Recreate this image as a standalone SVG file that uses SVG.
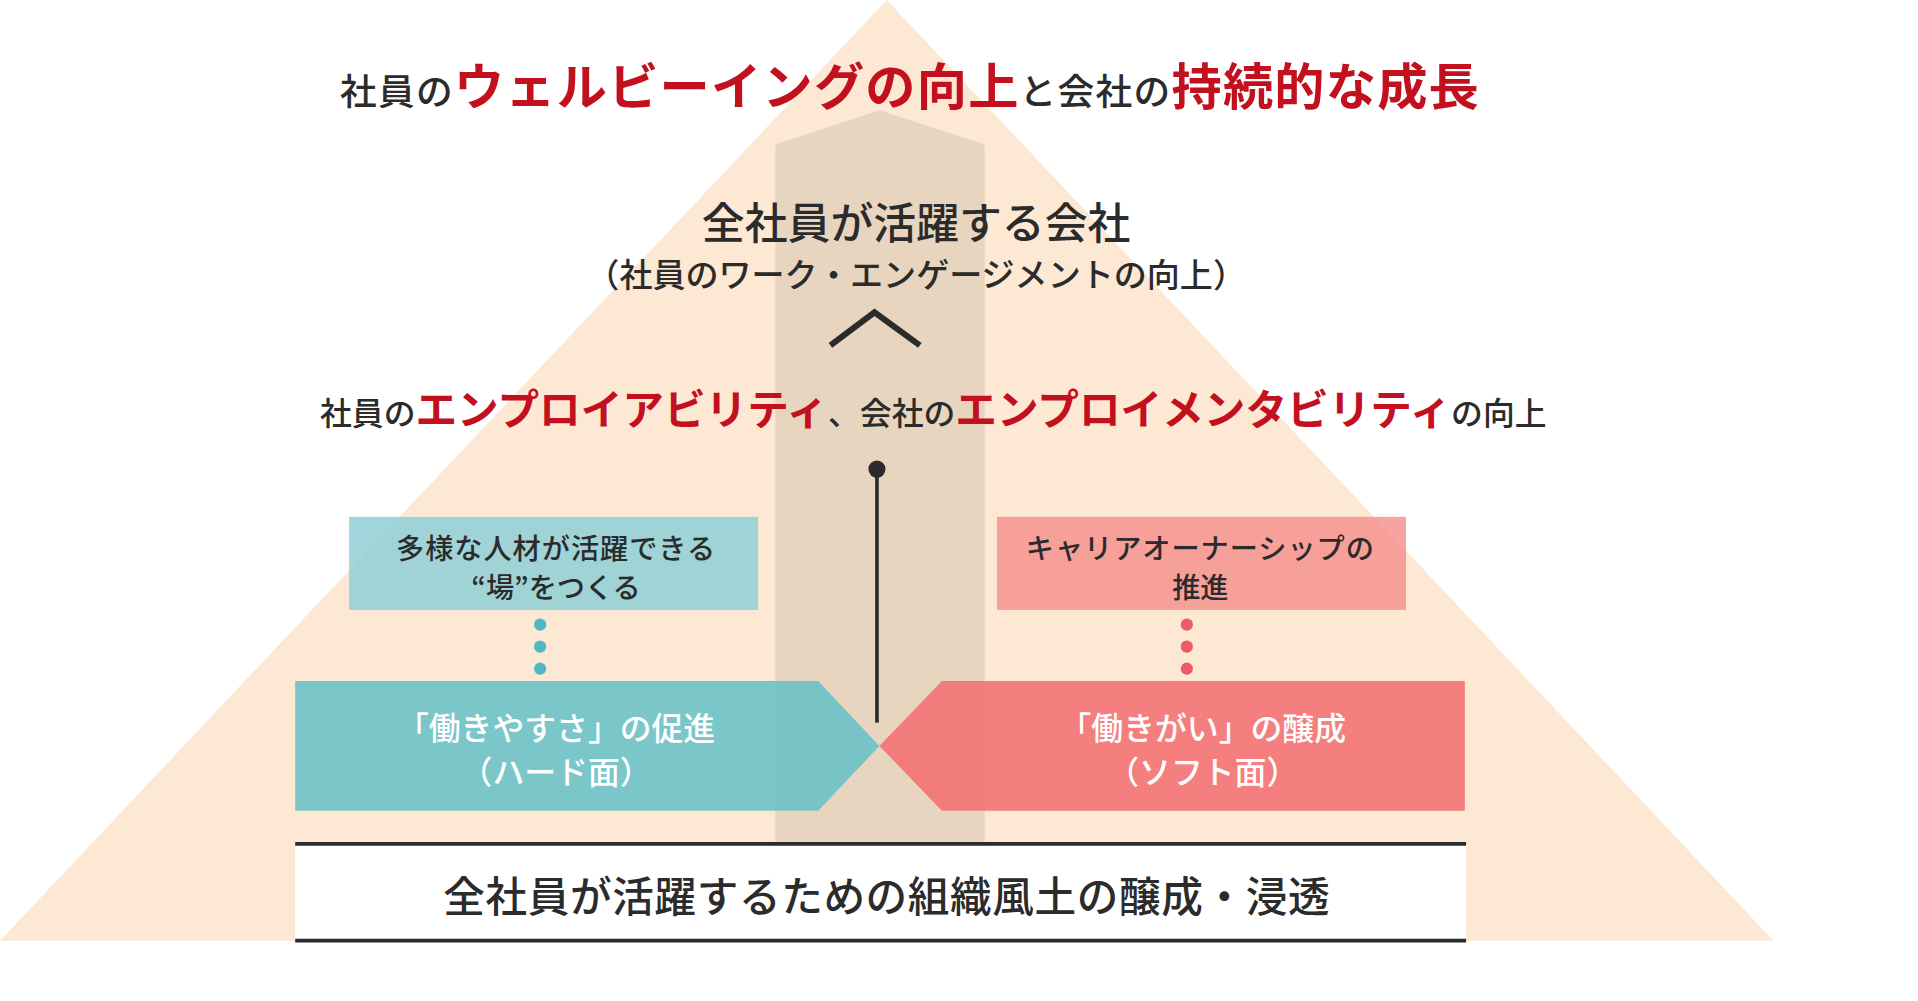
<svg xmlns="http://www.w3.org/2000/svg" width="1918" height="1001" viewBox="0 0 1918 1001">
<style>
text{font-family:"Noto Sans CJK JP","Noto Sans",sans-serif;font-weight:500;text-anchor:middle}
.k{fill:#2b2b2b}.r{fill:#c3101f;font-weight:700}.w{fill:#fff}
</style>
<rect width="1918" height="1001" fill="#fff"/>
<g transform="scale(1.2248)">
<g id="pyramid">
<polygon points="724,0 1448,768 0,768" fill="#fde8d4"/>
<polygon points="633,118 718,90 804,118 804,688 633,688" fill="#e8d5c0"/>
</g>
<g id="title">
<text x="743" y="86" class="k" style="font-size:30px;letter-spacing:1px"><tspan>社員の</tspan><tspan class="r" style="font-size:41px">ウェルビーイングの向上</tspan><tspan>と会社の</tspan><tspan class="r" style="font-size:41px">持続的な成長</tspan></text>
</g>
<g id="goal">
<text x="748" y="195" class="k" style="font-size:35px">全社員が活躍する会社</text>
<text x="748" y="234" class="k" style="font-size:27px">（社員のワーク・エンゲージメントの向上）</text>
</g>
<g id="connectors">
<polyline points="678,282 714,255 751,282" fill="none" stroke="#2b2b2b" stroke-width="5"/>
<circle cx="716" cy="383" r="7" fill="#2b2b2b"/>
<line x1="716" y1="383" x2="716" y2="590" stroke="#2b2b2b" stroke-width="3"/>
<g fill="#4fb8c4"><circle cx="441" cy="510" r="5"/><circle cx="441" cy="528" r="5"/><circle cx="441" cy="546" r="5"/></g>
<g fill="#ef5a67"><circle cx="969" cy="510" r="5"/><circle cx="969" cy="528" r="5"/><circle cx="969" cy="546" r="5"/></g>
</g>
<g id="employability">
<text x="762" y="347" class="k" style="font-size:26px"><tspan>社員の</tspan><tspan class="r" style="font-size:34px">エンプロイアビリティ</tspan><tspan>、会社の</tspan><tspan class="r" style="font-size:34px">エンプロイメンタビリティ</tspan><tspan>の向上</tspan></text>
</g>
<g id="left-box">
<rect x="285" y="422" width="334" height="76" fill="#8fcfd6" opacity="0.85"/>
<text x="454" y="456" class="k" style="font-size:23px;letter-spacing:0.8px">多様な人材が活躍できる</text>
<text x="454" y="488" class="k" style="font-size:23px">“場”をつくる</text>
</g>
<g id="right-box">
<rect x="814" y="422" width="334" height="76" fill="#f6938f" opacity="0.85"/>
<text x="980" y="456" class="k" style="font-size:23px;letter-spacing:0.8px">キャリアオーナーシップの</text>
<text x="980" y="488" class="k" style="font-size:23px">推進</text>
</g>
<g id="left-arrow">
<polygon points="241,556 668,556 718,609 668,662 241,662" fill="#63bfc7" opacity="0.85"/>
<text x="454" y="604" class="w" style="font-size:26px">「働きやすさ」の促進</text>
<text x="454" y="640" class="w" style="font-size:26px">（ハード面）</text>
</g>
<g id="right-arrow">
<polygon points="1196,556 769,556 718,609 769,662 1196,662" fill="#f36c70" opacity="0.85"/>
<text x="982" y="604" class="w" style="font-size:26px">「働きがい」の醸成</text>
<text x="982" y="640" class="w" style="font-size:26px">（ソフト面）</text>
</g>
<g id="base">
<rect x="241" y="690" width="956" height="78" fill="#fff"/>
<line x1="241" y1="689" x2="1197" y2="689" stroke="#2b2b2b" stroke-width="3"/>
<line x1="241" y1="768" x2="1197" y2="768" stroke="#2b2b2b" stroke-width="3"/>
<text x="724" y="745" class="k" style="font-size:34px;letter-spacing:0.5px">全社員が活躍するための組織風土の醸成・浸透</text>
</g>
</g>
</svg>
